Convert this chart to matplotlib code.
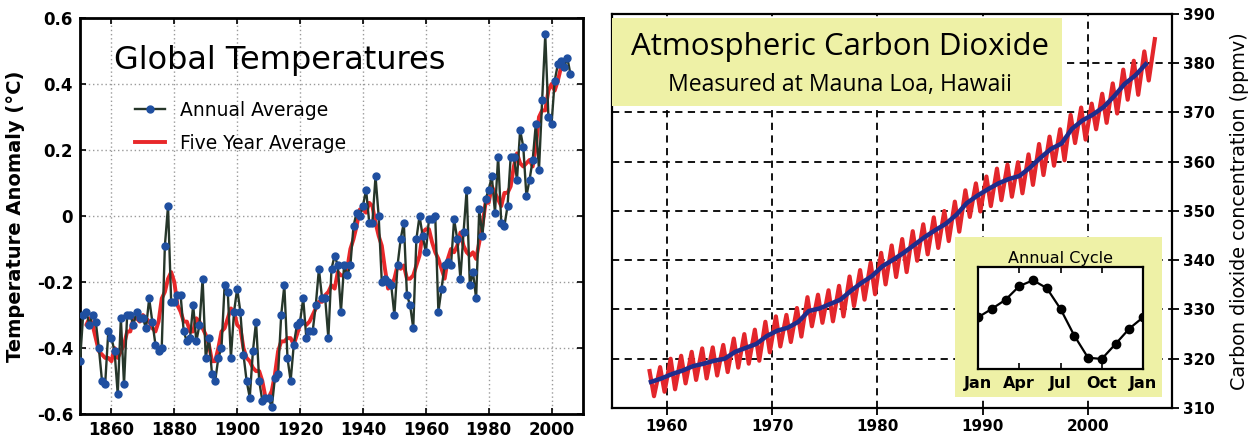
import numpy as np
import matplotlib
matplotlib.use("Agg")
import matplotlib.pyplot as plt
from matplotlib.patches import Rectangle
from matplotlib.lines import Line2D

# ---------------- data: global temperature anomaly ----------------
temp_years = list(range(1850, 2007))
temp_annual = [
    -0.44, -0.30, -0.29, -0.33, -0.30, -0.32, -0.40, -0.50, -0.51, -0.35,
    -0.37, -0.41, -0.54, -0.31, -0.51, -0.30, -0.30, -0.33, -0.29, -0.31,
    -0.31, -0.34, -0.25, -0.32, -0.39, -0.41, -0.40, -0.09, 0.03, -0.26,
    -0.26, -0.24, -0.24, -0.35, -0.38, -0.37, -0.27, -0.38, -0.33, -0.19,
    -0.43, -0.37, -0.48, -0.50, -0.43, -0.40, -0.21, -0.23, -0.43, -0.29,
    -0.22, -0.29, -0.42, -0.50, -0.55, -0.41, -0.32, -0.50, -0.56, -0.55,
    -0.55, -0.58, -0.49, -0.48, -0.30, -0.21, -0.43, -0.50, -0.39, -0.33,
    -0.32, -0.25, -0.37, -0.35, -0.35, -0.27, -0.16, -0.25, -0.25, -0.37,
    -0.16, -0.12, -0.15, -0.29, -0.15, -0.18, -0.15, -0.03, 0.01, 0.00,
    0.03, 0.08, -0.02, -0.02, 0.12, 0.00, -0.20, -0.19, -0.20, -0.21,
    -0.30, -0.15, -0.07, -0.02, -0.24, -0.27, -0.34, -0.07, 0.00, -0.06,
    -0.11, -0.01, -0.01, 0.00, -0.29, -0.22, -0.15, -0.14, -0.15, -0.01,
    -0.07, -0.19, -0.05, 0.08, -0.21, -0.17, -0.25, 0.02, -0.06, 0.05,
    0.08, 0.12, 0.01, 0.18, -0.02, -0.03, 0.03, 0.18, 0.18, 0.11,
    0.26, 0.21, 0.06, 0.11, 0.17, 0.28, 0.14, 0.35, 0.55, 0.30,
    0.28, 0.41, 0.46, 0.47, 0.45, 0.48, 0.43,
]
five_years = list(range(1852, 2005))
temp_five = [
    -0.33, -0.31, -0.33, -0.37, -0.41, -0.42, -0.43, -0.43, -0.44, -0.40,
    -0.43, -0.41, -0.39, -0.35, -0.35, -0.31, -0.31, -0.32, -0.30, -0.31,
    -0.32, -0.34, -0.35, -0.32, -0.25, -0.23, -0.19, -0.17, -0.20, -0.27,
    -0.29, -0.32, -0.32, -0.35, -0.35, -0.31, -0.32, -0.34, -0.36, -0.39,
    -0.44, -0.44, -0.40, -0.35, -0.34, -0.31, -0.28, -0.29, -0.33, -0.34,
    -0.40, -0.43, -0.44, -0.46, -0.47, -0.47, -0.50, -0.55, -0.55, -0.53,
    -0.48, -0.41, -0.38, -0.38, -0.37, -0.37, -0.39, -0.36, -0.33, -0.32,
    -0.33, -0.32, -0.30, -0.28, -0.26, -0.26, -0.24, -0.23, -0.21, -0.22,
    -0.17, -0.18, -0.18, -0.16, -0.10, -0.07, -0.03, 0.02, 0.02, 0.01,
    0.04, 0.03, -0.02, -0.06, -0.09, -0.16, -0.22, -0.21, -0.19, -0.15,
    -0.16, -0.15, -0.19, -0.19, -0.18, -0.15, -0.12, -0.05, -0.04, -0.04,
    -0.08, -0.11, -0.13, -0.16, -0.19, -0.13, -0.10, -0.11, -0.09, -0.05,
    -0.09, -0.11, -0.12, -0.11, -0.13, -0.08, -0.03, 0.04, 0.04, 0.09,
    0.07, 0.05, 0.03, 0.07, 0.07, 0.09, 0.15, 0.19, 0.16, 0.15,
    0.16, 0.17, 0.15, 0.21, 0.30, 0.32, 0.32, 0.38, 0.40, 0.38,
    0.41, 0.45, 0.46,
]

# ---------------- data: Mauna Loa CO2 ----------------
co2_years = list(range(1958, 2007))
co2_annual_mean = [
    315.3, 316.0, 316.9, 317.6, 318.5, 319.0, 319.6, 320.0, 321.4, 322.2,
    323.0, 324.6, 325.7, 326.3, 327.5, 329.7, 330.2, 331.1, 332.0, 333.8,
    335.4, 336.8, 338.8, 340.1, 341.5, 343.1, 344.7, 346.1, 347.4, 349.2,
    351.6, 353.1, 354.4, 355.6, 356.5, 357.1, 358.8, 360.8, 362.6, 363.7,
    366.7, 368.4, 369.6, 371.1, 373.3, 375.8, 377.5, 379.8, 381.9,
]
co2_may_peak = [
    317.5, 318.3, 320.0, 320.6, 321.4, 322.1, 322.3, 322.8, 324.1, 325.0,
    325.9, 327.5, 328.6, 328.9, 330.3, 332.5, 333.0, 333.9, 334.8, 336.7,
    338.0, 339.5, 341.5, 343.0, 344.3, 345.9, 347.3, 348.7, 350.0, 351.9,
    354.2, 355.6, 357.0, 358.6, 359.4, 359.9, 361.5, 363.6, 365.1, 366.6,
    369.5, 371.0, 371.8, 373.8, 375.9, 378.7, 380.5, 382.4, 384.9,
]
co2_oct_trough = [
    312.4, 313.3, 313.8, 315.0, 315.7, 316.0, 316.6, 317.3, 318.2, 319.0,
    319.6, 321.3, 322.5, 323.4, 324.5, 326.6, 327.3, 327.6, 328.6, 330.7,
    332.0, 333.1, 335.1, 336.6, 337.6, 339.9, 341.2, 342.5, 343.9, 345.8,
    348.8, 349.9, 351.0, 352.2, 352.9, 353.6, 355.3, 357.3, 359.2, 360.3,
    363.8, 364.5, 366.6, 367.9, 369.8, 372.6, 373.6, 376.5,
]

cycle_months = list(range(13))
cycle_labels = ["Jan", "Apr", "Jul", "Oct", "Jan"]
cycle_values = [0.0, 0.65, 1.35, 2.4, 2.85, 2.25, 0.65, -1.4, -3.1, -3.2, -2.05, -0.87, 0.0]

# ---------------- figure ----------------
fig = plt.figure(figsize=(12.52, 4.45), dpi=100)
fig.patch.set_facecolor("white")

# ===== left panel =====
axL = fig.add_axes([80 / 1252, 1 - 414 / 445, 503 / 1252, 396 / 445])
axL.plot(five_years, temp_five, color="#e8282a", lw=2.8, zorder=2, solid_capstyle="round")
axL.plot(temp_years, temp_annual, color="#26362a", lw=1.7, marker="o", ms=5,
         mfc="#1f4fa0", mec="#1f4fa0", zorder=3)
axL.set_xlim(1850, 2010)
axL.set_ylim(-0.6, 0.6)
axL.set_xticks([1860, 1880, 1900, 1920, 1940, 1960, 1980, 2000])
axL.set_yticks([-0.6, -0.4, -0.2, 0, 0.2, 0.4, 0.6])
axL.set_yticklabels(["-0.6", "-0.4", "-0.2", "0", "0.2", "0.4", "0.6"])
axL.grid(True, color="#9a9a9a", ls=(0, (1, 2)), lw=1.0)
axL.set_axisbelow(True)
axL.tick_params(direction="in", length=4, width=1.2, top=True, right=True,
                labelsize=12, pad=5)
for lab in axL.get_xticklabels() + axL.get_yticklabels():
    lab.set_fontweight("bold")
for s in axL.spines.values():
    s.set_linewidth(2.0)
axL.set_ylabel("Temperature Anomaly (°C)", fontsize=14, fontweight="bold")
axL.yaxis.set_label_coords(-0.11, 0.5)
axL.text(0.068, 0.87, "Global Temperatures", transform=axL.transAxes,
         fontsize=23, va="baseline", ha="left")
h1 = Line2D([], [], color="#26362a", lw=1.7, marker="o", ms=5, mfc="#1f4fa0", mec="#1f4fa0")
h2 = Line2D([], [], color="#e8282a", lw=2.8)
axL.legend([h1, h2], ["Annual Average", "Five Year Average"], loc="upper left",
           bbox_to_anchor=(0.095, 0.81), frameon=False, fontsize=13.5,
           handlelength=1.6, handletextpad=0.8, labelspacing=0.75, borderaxespad=0)

# ===== right panel =====
axR = fig.add_axes([612 / 1252, 1 - 408 / 445, 560 / 1252, 394 / 445])
yrs = np.array(co2_years, dtype=float)
zig_x = np.column_stack([yrs[:-1] + 0.37, yrs[:-1] + 0.79]).ravel()
zig_y = np.column_stack([co2_may_peak[:-1], co2_oct_trough]).ravel()
zig_x = np.append(zig_x, yrs[-1] + 0.37)
zig_y = np.append(zig_y, co2_may_peak[-1])
axR.plot(zig_x, zig_y, color="#e3262b", lw=3.0, zorder=2)
axR.plot(yrs[:-1] + 0.5, co2_annual_mean[:-1], color="#1f2d8c", lw=3.2, zorder=3)
axR.set_xlim(1954.8, 2008)
axR.set_ylim(310, 390)
axR.set_xticks([1960, 1970, 1980, 1990, 2000])
axR.set_yticks([310, 320, 330, 340, 350, 360, 370, 380, 390])
axR.yaxis.tick_right()
axR.yaxis.set_label_position("right")
axR.grid(True, color="black", ls=(0, (4, 3)), lw=1.3)
axR.set_axisbelow(True)
axR.tick_params(direction="out", length=5, width=1.3, labelsize=11, pad=3)
for lab in axR.get_xticklabels() + axR.get_yticklabels():
    lab.set_fontweight("bold")
for s in axR.spines.values():
    s.set_linewidth(1.6)
axR.set_ylabel("Carbon dioxide concentration (ppmv)", fontsize=13.8, rotation=90)
axR.yaxis.set_label_coords(1.104, 0.5)

box_color = "#eef1a6"
axR.add_patch(Rectangle((0.0, 0.766), 0.804, 0.224, transform=axR.transAxes,
                        facecolor=box_color, edgecolor="none", zorder=4))
axR.text(0.407, 0.916, "Atmospheric Carbon Dioxide", transform=axR.transAxes,
         fontsize=22.5, family="Open Sans", ha="center", va="center", zorder=5)
axR.text(0.407, 0.820, "Measured at Mauna Loa, Hawaii", transform=axR.transAxes,
         fontsize=16.6, family="Open Sans", ha="center", va="center", zorder=5)

# ===== inset =====
axBg = fig.add_axes([955 / 1252, 1 - 397 / 445, 207 / 1252, 160 / 445])
axBg.set_facecolor(box_color)
axBg.set_xticks([])
axBg.set_yticks([])
for s in axBg.spines.values():
    s.set_visible(False)

axI = fig.add_axes([978 / 1252, 1 - 369 / 445, 165 / 1252, 102 / 445])
axI.plot(cycle_months, cycle_values, color="black", lw=1.6, marker="o", ms=6)
axI.set_xlim(0, 12)
axI.set_ylim(-3.97, 3.87)
axI.set_xticks([0, 3, 6, 9, 12])
axI.set_xticklabels(cycle_labels, fontweight="bold", fontsize=11.5)
axI.set_yticks([])
axI.tick_params(axis="x", direction="in", length=4, width=1.2, top=True, pad=5)
for s in axI.spines.values():
    s.set_linewidth(1.6)
axI.set_title("Annual Cycle", fontsize=11.5, pad=3)

fig.savefig("out.png", dpi=100)
